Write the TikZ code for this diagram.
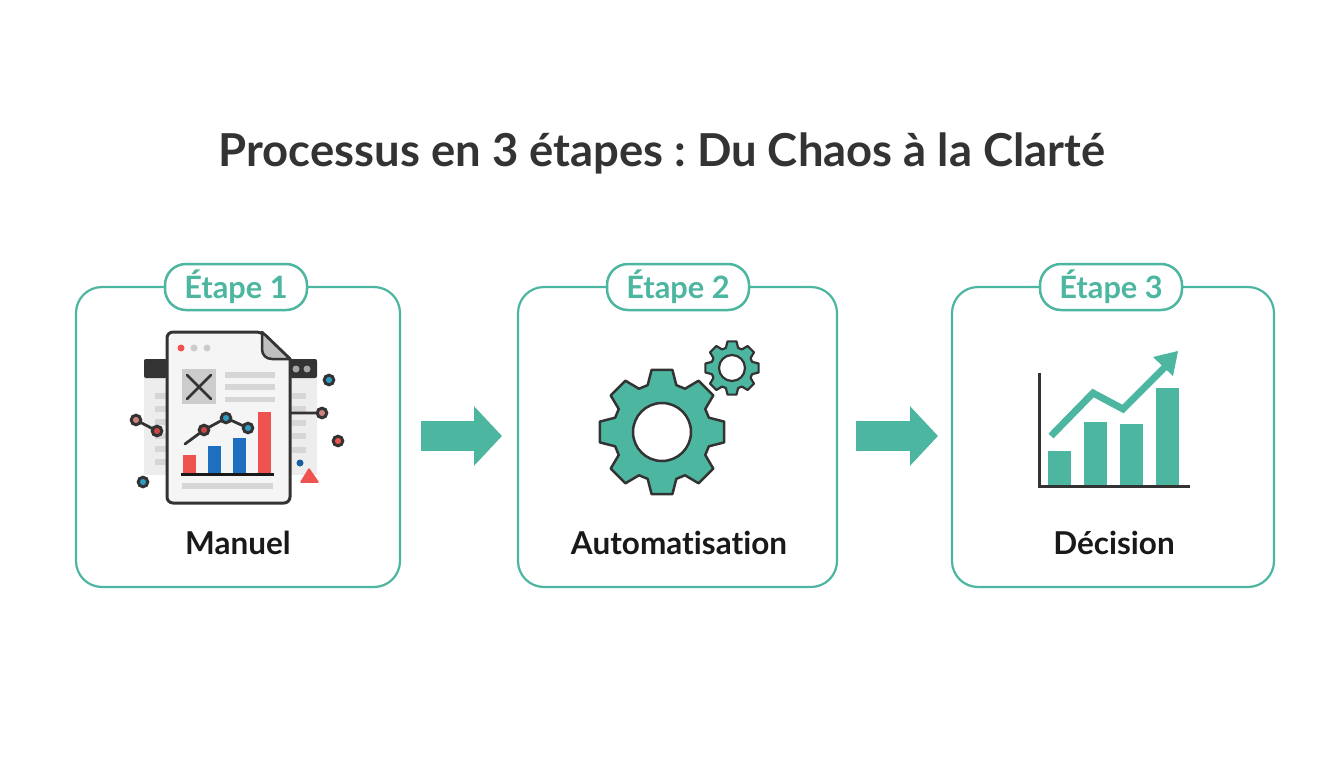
\documentclass[tikz,border=0pt]{standalone}
\usepackage{fontspec}
\setmainfont{Lato}[Ligatures=NoCommon]
\usepackage{xcolor}
\definecolor{myteal}{RGB}{77,182,160}
\definecolor{mydark}{RGB}{51,51,51}
\definecolor{myred}{RGB}{239,83,80}
\definecolor{myblue}{RGB}{30,111,192}
\definecolor{mycyan}{RGB}{46,156,196}
\definecolor{mypink}{RGB}{205,130,125}
\definecolor{mygray}{RGB}{214,214,214}
\usepackage{tikz}
\usetikzlibrary{positioning}
\usetikzlibrary{arrows.meta}
\newcommand{\gearteeth}[2]{(-17:#2) \foreach \a in {0,45,...,315} {-- (\a-9.5:#1) -- (\a+9.5:#1) -- (\a+17:#2) -- (\a+28:#2)} -- cycle}
\frenchspacing

\begin{document}
\begin{tikzpicture}[x=1pt,y=-1pt,
  every node/.style={inner sep=0pt,outer sep=0pt},
  title/.style={font=\fontsize{45.4}{46}\selectfont\bfseries,text=mydark},
  card/.style={draw=myteal,line width=2.2pt,rounded corners=26pt,fill=white,minimum height=300pt},
  badge/.style={draw=myteal,line width=2.5pt,rounded corners=21pt,fill=white,minimum width=142pt,minimum height=46pt,
    font=\fontsize{30.8}{31}\selectfont\bfseries,text=myteal},
  cardlabel/.style={font=\fontsize{31.5}{32}\selectfont\bfseries,text=black!90},
  flowarrow/.style={draw=myteal,line width=30pt,-{Triangle[length=28pt,width=58pt]}},
  sheet/.style={fill=mygray},
  dot/.style={draw=black!80,line width=3pt},
  gearline/.style={draw=mydark,line width=2.5pt,fill=myteal,line join=round}]
\useasboundingbox (0,0) rectangle (1344,768);
\fill[white] (0,0) rectangle (1344,768);

\node[title] (head) at (662,153) {Processus en 3 étapes : Du Chaos à la Clarté};

\node[card,minimum width=324pt] (card1) at (238,437) {};
\node[card,minimum width=319pt,right=118pt of card1] (card2) {};
\node[card,minimum width=322pt,right=115pt of card2] (card3) {};

\node[badge] (badge1) at (236,287) {Étape 1};
\node[badge] (badge2) at (678,287) {Étape 2};
\node[badge] (badge3) at (1111,287) {Étape 3};

\node[cardlabel] (lab1) at (238,543) {Manuel};
\node[cardlabel] (lab2) at (679,543) {Automatisation};
\node[cardlabel] (lab3) at (1114,543) {Décision};

\draw[flowarrow,shorten <=21pt,shorten >=16pt] (card1.east |- 0,436) -- (card2.west |- 0,436);
\draw[flowarrow,shorten <=19pt,shorten >=14pt] (card2.east |- 0,436) -- (card3.west |- 0,436);

% back windows
\foreach \x/\w in {144/23,290/27} {
  \fill[black!7] (\x,359) rectangle ++(\w,116);
  \fill[mydark,rounded corners=2pt] (\x,359) rectangle ++(\w,19);
}
\foreach \y in {393,406,419,433,446,459}
  \fill[black!16] (155,\y) rectangle ++(12,6);
\foreach \y in {393,406,420,433,447}
  \fill[black!16] (292,\y) rectangle ++(14,6);
\foreach \x in {296,307}
  \fill[black!35] (\x,369) circle (3.5);

% document
\draw[draw=mydark,line width=3pt,fill=black!4,line join=round,rounded corners=6pt]
  (167,332) -- (262,332) [sharp corners] -- (290,359) [rounded corners=6pt] -- (290,503) -- (167,503) -- cycle;
\draw[draw=mydark,line width=2.5pt,fill=black!25,line join=round] (262,332) -- (262,349) .. controls (262,355) and (266,359) .. (272,359) -- (290,359) -- cycle;
\fill[myred] (181,348) circle (3.5);
\foreach \x in {194,207}
  \fill[black!20] (\x,348) circle (3.5);
\fill[black!20] (182,369) rectangle (216,404);
\draw[mydark,line width=2.8pt,line cap=round] (187,375) -- (211,399) (211,375) -- (187,399);
\foreach \y/\h in {372/6,384/6,397/5}
  \fill[sheet] (225,\y) rectangle ++(50,\h);
\fill[sheet] (182,483) rectangle (273,489);

% bars on the sheet
\fill[myred] (183,455) rectangle (196,474);
\fill[myblue] (208,446) rectangle (221,474);
\fill[myblue] (233,438) rectangle (246,474);
\fill[myred] (258,412) rectangle (271,474);
\draw[black!90,line width=3pt] (181,474) -- (274,474);
\draw[mydark,line width=2.8pt,line cap=round] (185,444) -- (204,430) -- (226,418) -- (248,428);
\draw[dot,fill=myred!85!black] (204,430) circle (4.8);
\draw[dot,fill=mycyan] (226,418) circle (4.8);
\draw[dot,fill=mycyan] (248,428) circle (4.8);

% loose points
\draw[mydark,line width=2.8pt] (136,420) -- (157,431) (290,413) -- (322,413);
\draw[dot,fill=mypink] (136,420) circle (4.8);
\draw[dot,fill=myred!85!black] (157,431) circle (4.8);
\draw[dot,fill=mypink] (322,413) circle (4.8);
\draw[dot,fill=mycyan] (329,380) circle (4.8);
\draw[dot,fill=myred] (338,441) circle (4.8);
\draw[dot,fill=mycyan] (143,482) circle (4.8);
\fill[myblue!85!black] (300,463) circle (3.5);
\fill[myred,draw=myred,line width=1.5pt,line join=round] (309,469) -- (318,482) -- (301,482) -- cycle;

% gears
\begin{scope}[shift={(662,432)}]
\draw[gearline] \gearteeth{63}{49};
\draw[draw=mydark,line width=2.5pt,fill=white] (0,0) circle (29);
\end{scope}
\begin{scope}[shift={(732,368)}]
\draw[gearline,line width=2.2pt] \gearteeth{27}{21};
\draw[draw=mydark,line width=2.2pt,fill=white] (0,0) circle (13);
\end{scope}

% chart
\foreach \x/\t in {1048/451,1084/422,1120/424,1156/388}
  \fill[myteal] (\x,\t) rectangle (\x+23,485);
\draw[mydark,line width=3pt] (1039,373) -- (1039,486) -- (1190,486);
\draw[myteal,line width=7pt] (1051,436) -- (1093,393) -- (1123,409) -- (1165,367);
\fill[myteal] (1178,351) -- (1173,376) -- (1153,357) -- cycle;
\end{tikzpicture}
\end{document}
